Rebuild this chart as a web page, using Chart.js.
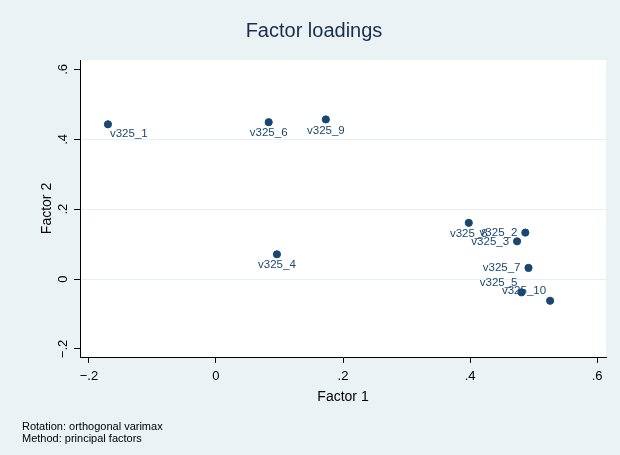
<!DOCTYPE html>
<html>
<head>
<meta charset="utf-8">
<script src="https://cdn.jsdelivr.net/npm/chart.js@4/dist/chart.umd.min.js"></script>
<style>
  body { margin: 0; background: #eaf2f3; }
  #wrap { width: 620px; height: 455px; }
</style>
</head>
<body>
<div id="wrap"><canvas id="chart" width="620" height="455"></canvas></div>
<script>
// loadings
const variables = ['v325_1', 'v325_2', 'v325_3', 'v325_4', 'v325_5',
                   'v325_6', 'v325_7', 'v325_8', 'v325_9', 'v325_10'];
const factor1 = [-0.170, 0.487, 0.474, 0.096, 0.481, 0.083, 0.492, 0.398, 0.173, 0.526];
const factor2 = [0.443, 0.133, 0.108, 0.071, -0.038, 0.449, 0.032, 0.161, 0.457, -0.062];
// clock position of each marker label (stata style)
const labelClock = [5, 9, 9, 6, 10, 6, 9, 6, 6, 10];
const notes = ['Rotation: orthogonal varimax', 'Method: principal factors'];

const navy = '#1a476f';
const ltbluishgray = '#eaf2f3';
const fontFamily = '"Liberation Sans", Arial, sans-serif';

function fmtTick(v) {
    if (Math.abs(v) < 1e-9) return '0';
    let s = Math.abs(v).toFixed(1).replace(/^0/, '');
    return (v < 0 ? '\u2212' : '') + s;
}

const plotBg = {
    id: 'plotBg',
    beforeDraw(chart) {
        const { ctx, chartArea: a } = chart;
        ctx.save();
        ctx.fillStyle = ltbluishgray;
        ctx.fillRect(0, 0, chart.width, chart.height);
        ctx.fillStyle = '#ffffff';
        ctx.fillRect(a.left, a.top, a.right - a.left, a.bottom - a.top);
        ctx.restore();
    }
};

const markerLabels = {
    id: 'markerLabels',
    afterDatasetsDraw(chart) {
        const ctx = chart.ctx;
        const meta = chart.getDatasetMeta(0);
        ctx.save();
        ctx.font = '11.5px ' + fontFamily;
        ctx.fillStyle = navy;
        ctx.textBaseline = 'middle';
        meta.data.forEach((pt, i) => {
            let x = pt.x, y = pt.y;
            switch (labelClock[i]) {
                case 5: ctx.textAlign = 'left'; x += 2; y += 10; break;
                case 6: ctx.textAlign = 'center'; y += 11; break;
                case 9: ctx.textAlign = 'right'; x -= 8; break;
                case 10: ctx.textAlign = 'right'; x -= 4; y -= 10; break;
                default: ctx.textAlign = 'left'; x += 8;
            }
            ctx.fillText(variables[i], x, y);
        });
        ctx.restore();
    }
};

const points = variables.map((v, i) => ({ x: factor1[i], y: factor2[i] }));

new Chart(document.getElementById('chart'), {
    type: 'scatter',
    data: {
        datasets: [{
            label: 'loadings',
            data: points,
            backgroundColor: navy,
            borderColor: navy,
            pointRadius: 3.6,
            pointHoverRadius: 3.6
        }]
    },
    plugins: [plotBg, markerLabels],
    options: {
        responsive: false,
        animation: false,
        devicePixelRatio: 1,
        layout: { padding: { left: 22, right: 14, top: 0, bottom: 0 } },
        plugins: {
            legend: { display: false },
            tooltip: { enabled: false },
            title: {
                display: true,
                text: 'Factor loadings',
                color: '#1c2b4f',
                font: { family: fontFamily, size: 20, weight: 'normal', lineHeight: 1.2 },
                padding: { top: 19, bottom: 17 }
            },
            subtitle: {
                display: true,
                position: 'bottom',
                align: 'start',
                text: notes,
                color: '#000',
                font: { family: fontFamily, size: 11, lineHeight: 1.1 },
                padding: { top: 0, bottom: 9.8 }
            }
        },
        scales: {
            x: {
                type: 'linear',
                min: -0.214,
                max: 0.614,
                afterFit: s => { s.height = 64; },
                border: { display: true, color: '#000', width: 1 },
                grid: { drawOnChartArea: false, tickLength: 6, tickColor: '#000' },
                ticks: {
                    stepSize: 0.2,
                    includeBounds: false,
                    maxRotation: 0,
                    padding: 6,
                    color: '#000',
                    font: { family: fontFamily, size: 13 },
                    callback: v => fmtTick(v)
                },
                title: {
                    display: true,
                    text: 'Factor 1',
                    color: '#000',
                    font: { family: fontFamily, size: 14 },
                    padding: { top: 0, bottom: 15.5 }
                }
            },
            y: {
                type: 'linear',
                min: -0.223,
                max: 0.627,
                afterFit: s => { s.width = 58; },
                border: { display: true, color: '#000', width: 1 },
                grid: {
                    tickLength: 6,
                    tickColor: '#000',
                    lineWidth: 1,
                    color: c => {
                        const v = c.tick ? c.tick.value : 0;
                        return (v < -0.1 || v > 0.5) ? 'rgba(0,0,0,0)' : '#e6eff1';
                    }
                },
                ticks: {
                    stepSize: 0.2,
                    includeBounds: false,
                    minRotation: 90,
                    maxRotation: 90,
                    crossAlign: 'center',
                    padding: 1,
                    color: '#000',
                    font: { family: fontFamily, size: 13 },
                    callback: v => fmtTick(v)
                },
                title: {
                    display: true,
                    text: 'Factor 2',
                    color: '#000',
                    font: { family: fontFamily, size: 14 },
                    padding: { top: 16.6, bottom: 0 }
                }
            }
        }
    }
});
</script>
</body>
</html>
